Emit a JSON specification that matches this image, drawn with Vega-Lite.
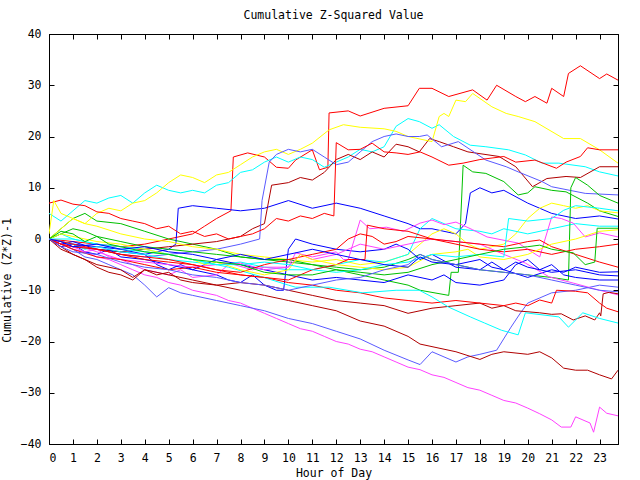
{
"$schema": "https://vega.github.io/schema/vega-lite/v6.json",
"width": 569, "height": 410,
"autosize": "none",
"padding": {"left": 49, "top": 34, "right": 22, "bottom": 36},
"background": "white",
"title": {"text": "Cumulative Z-Squared Value", "font": "DejaVu Sans Mono", "fontSize": 11.5, "fontWeight": "normal", "color": "black", "offset": 7, "anchor": "middle"},
"config": {"view": {"stroke": "black", "strokeWidth": 1}},
"data": {"values": [
{"s":1,"h":0,"v":0},{"s":1,"h":1,"v":-0.5},{"s":1,"h":2,"v":-1},{"s":1,"h":3,"v":-1.5},{"s":1,"h":4,"v":-1},{"s":1,"h":5,"v":0},{"s":1,"h":6,"v":1},{"s":1,"h":6.5,"v":2.5},{"s":1,"h":7,"v":4},{"s":1,"h":7.6,"v":5.5},{"s":1,"h":7.7,"v":16},{"s":1,"h":8.3,"v":16.8},{"s":1,"h":9,"v":16},{"s":1,"h":9.5,"v":14},{"s":1,"h":10,"v":13.8},{"s":1,"h":10.3,"v":15.4},{"s":1,"h":11,"v":17.4},{"s":1,"h":11.3,"v":13.5},{"s":1,"h":11.65,"v":14},{"s":1,"h":11.7,"v":24.6},{"s":1,"h":12.5,"v":25},{"s":1,"h":13,"v":24},{"s":1,"h":14,"v":25.5},{"s":1,"h":15,"v":26},{"s":1,"h":15.47,"v":29.4},{"s":1,"h":16,"v":29.4},{"s":1,"h":16.7,"v":27.8},{"s":1,"h":17.7,"v":29.1},{"s":1,"h":18.3,"v":27.1},{"s":1,"h":18.7,"v":30},{"s":1,"h":19.5,"v":27.8},{"s":1,"h":19.9,"v":26.8},{"s":1,"h":20.3,"v":27.8},{"s":1,"h":20.8,"v":26.5},{"s":1,"h":21,"v":29.4},{"s":1,"h":21.5,"v":27.8},{"s":1,"h":21.7,"v":32.3},{"s":1,"h":22.2,"v":33.8},{"s":1,"h":23,"v":31.3},{"s":1,"h":23.3,"v":32.2},{"s":1,"h":23.77,"v":31},
{"s":2,"h":0,"v":0},{"s":2,"h":0.5,"v":2},{"s":2,"h":1,"v":4},{"s":2,"h":1.5,"v":5},{"s":2,"h":2,"v":3.5},{"s":2,"h":3,"v":3},{"s":2,"h":4,"v":1.5},{"s":2,"h":5,"v":0},{"s":2,"h":6,"v":-1},{"s":2,"h":7,"v":-2},{"s":2,"h":8,"v":-3.5},{"s":2,"h":9,"v":-4},{"s":2,"h":10,"v":-4.5},{"s":2,"h":11,"v":-5},{"s":2,"h":12,"v":-6},{"s":2,"h":13,"v":-7},{"s":2,"h":14,"v":-8},{"s":2,"h":15,"v":-9},{"s":2,"h":15.5,"v":-10},{"s":2,"h":16.7,"v":-11},{"s":2,"h":16.8,"v":-6.5},{"s":2,"h":17.1,"v":-6.5},{"s":2,"h":17.3,"v":14.4},{"s":2,"h":17.7,"v":13.1},{"s":2,"h":18.25,"v":12.8},{"s":2,"h":19,"v":11.2},{"s":2,"h":19.6,"v":8.6},{"s":2,"h":20,"v":9},{"s":2,"h":20.3,"v":10.2},{"s":2,"h":21,"v":9.5},{"s":2,"h":21.6,"v":9.2},{"s":2,"h":22.5,"v":7},{"s":2,"h":23,"v":5.5},{"s":2,"h":23.77,"v":4.4},
{"s":3,"h":0,"v":0},{"s":3,"h":0.5,"v":-1},{"s":3,"h":1,"v":-0.5},{"s":3,"h":2,"v":-2},{"s":3,"h":3,"v":-2.5},{"s":3,"h":4,"v":-3},{"s":3,"h":5,"v":-2},{"s":3,"h":5.3,"v":-1},{"s":3,"h":5.4,"v":6},{"s":3,"h":6,"v":6.5},{"s":3,"h":7,"v":6},{"s":3,"h":8,"v":5.5},{"s":3,"h":9,"v":6},{"s":3,"h":10,"v":7.5},{"s":3,"h":11,"v":6},{"s":3,"h":12,"v":7},{"s":3,"h":13,"v":6},{"s":3,"h":14,"v":4.5},{"s":3,"h":15,"v":3},{"s":3,"h":15.5,"v":2},{"s":3,"h":16,"v":2},{"s":3,"h":17,"v":1},{"s":3,"h":17.4,"v":3},{"s":3,"h":17.6,"v":9},{"s":3,"h":18,"v":10},{"s":3,"h":18.5,"v":9},{"s":3,"h":19,"v":9.5},{"s":3,"h":20,"v":7},{"s":3,"h":20.5,"v":6},{"s":3,"h":21,"v":5},{"s":3,"h":22,"v":4},{"s":3,"h":23,"v":4.5},{"s":3,"h":23.77,"v":3.9},
{"s":4,"h":0,"v":0},{"s":4,"h":0.5,"v":-1},{"s":4,"h":1,"v":-2},{"s":4,"h":1.5,"v":-2.5},{"s":4,"h":2,"v":-3.5},{"s":4,"h":2.5,"v":-4},{"s":4,"h":3,"v":-5},{"s":4,"h":3.5,"v":-6},{"s":4,"h":4,"v":-7},{"s":4,"h":4.5,"v":-7.5},{"s":4,"h":5,"v":-8.5},{"s":4,"h":5.5,"v":-9},{"s":4,"h":6,"v":-10},{"s":4,"h":6.5,"v":-10.5},{"s":4,"h":7,"v":-11},{"s":4,"h":7.5,"v":-12},{"s":4,"h":8,"v":-12.5},{"s":4,"h":8.5,"v":-13.5},{"s":4,"h":9,"v":-14.5},{"s":4,"h":9.5,"v":-15.5},{"s":4,"h":10,"v":-16.5},{"s":4,"h":10.5,"v":-17.5},{"s":4,"h":11,"v":-18},{"s":4,"h":11.5,"v":-19},{"s":4,"h":12,"v":-20},{"s":4,"h":12.5,"v":-20.5},{"s":4,"h":13,"v":-21.5},{"s":4,"h":13.5,"v":-22},{"s":4,"h":14,"v":-23},{"s":4,"h":14.5,"v":-24},{"s":4,"h":15,"v":-25},{"s":4,"h":15.5,"v":-25.5},{"s":4,"h":16,"v":-26.5},{"s":4,"h":16.5,"v":-27},{"s":4,"h":17,"v":-28},{"s":4,"h":17.5,"v":-29},{"s":4,"h":18,"v":-29.5},{"s":4,"h":18.5,"v":-30.5},{"s":4,"h":19,"v":-31.5},{"s":4,"h":19.5,"v":-32},{"s":4,"h":20,"v":-33},{"s":4,"h":20.5,"v":-34.1},{"s":4,"h":21,"v":-35.3},{"s":4,"h":21.4,"v":-36.7},{"s":4,"h":21.8,"v":-36.7},{"s":4,"h":22,"v":-34.7},{"s":4,"h":22.6,"v":-35.9},{"s":4,"h":22.75,"v":-37.7},{"s":4,"h":23,"v":-32.8},{"s":4,"h":23.3,"v":-34},{"s":4,"h":23.77,"v":-34.5},
{"s":5,"h":0,"v":5},{"s":5,"h":0.5,"v":3.5},{"s":5,"h":1,"v":5.5},{"s":5,"h":1.5,"v":7.5},{"s":5,"h":2,"v":7},{"s":5,"h":2.5,"v":8},{"s":5,"h":3,"v":8.5},{"s":5,"h":3.5,"v":7},{"s":5,"h":4,"v":9},{"s":5,"h":4.5,"v":10.5},{"s":5,"h":5,"v":9.5},{"s":5,"h":5.5,"v":9},{"s":5,"h":6,"v":9.5},{"s":5,"h":6.5,"v":9},{"s":5,"h":7,"v":10.5},{"s":5,"h":7.5,"v":11},{"s":5,"h":8,"v":13},{"s":5,"h":8.5,"v":13.5},{"s":5,"h":9,"v":15},{"s":5,"h":9.5,"v":16},{"s":5,"h":10,"v":15},{"s":5,"h":10.5,"v":16},{"s":5,"h":11,"v":15.5},{"s":5,"h":11.5,"v":14},{"s":5,"h":12,"v":15},{"s":5,"h":12.5,"v":16},{"s":5,"h":13,"v":17.5},{"s":5,"h":13.5,"v":17},{"s":5,"h":14,"v":18},{"s":5,"h":14.5,"v":22},{"s":5,"h":15,"v":23.5},{"s":5,"h":15.47,"v":22.9},{"s":5,"h":16,"v":21.6},{"s":5,"h":16.3,"v":22.3},{"s":5,"h":16.9,"v":20},{"s":5,"h":17.6,"v":18.3},{"s":5,"h":18.25,"v":18},{"s":5,"h":19.2,"v":17.4},{"s":5,"h":19.9,"v":16.4},{"s":5,"h":20.6,"v":14.8},{"s":5,"h":21.3,"v":14.8},{"s":5,"h":22.4,"v":14.1},{"s":5,"h":23,"v":13.1},{"s":5,"h":23.77,"v":12.3},
{"s":6,"h":0,"v":0},{"s":6,"h":0.5,"v":-1},{"s":6,"h":1,"v":-1.5},{"s":6,"h":2,"v":-2},{"s":6,"h":3,"v":-2.5},{"s":6,"h":4,"v":-2},{"s":6,"h":5,"v":-1.5},{"s":6,"h":6,"v":-1},{"s":6,"h":7,"v":-0.5},{"s":6,"h":8,"v":0.5},{"s":6,"h":8.5,"v":2},{"s":6,"h":9,"v":3},{"s":6,"h":9.3,"v":10.5},{"s":6,"h":10,"v":11},{"s":6,"h":10.5,"v":12},{"s":6,"h":11,"v":11.5},{"s":6,"h":11.5,"v":13},{"s":6,"h":12,"v":15.5},{"s":6,"h":12.5,"v":16.5},{"s":6,"h":13,"v":15.5},{"s":6,"h":13.5,"v":17},{"s":6,"h":14,"v":16},{"s":6,"h":14.5,"v":18.5},{"s":6,"h":15,"v":18},{"s":6,"h":15.47,"v":17},{"s":6,"h":15.9,"v":19.6},{"s":6,"h":16.3,"v":19},{"s":6,"h":16.9,"v":18},{"s":6,"h":17.5,"v":17},{"s":6,"h":18.8,"v":16.1},{"s":6,"h":19.5,"v":14.1},{"s":6,"h":20.2,"v":10.2},{"s":6,"h":20.8,"v":11.8},{"s":6,"h":21.6,"v":12.2},{"s":6,"h":22.2,"v":12},{"s":6,"h":23,"v":14.1},{"s":6,"h":23.77,"v":14.1},
{"s":7,"h":0,"v":0},{"s":7,"h":0.5,"v":2},{"s":7,"h":1,"v":4},{"s":7,"h":1.5,"v":3},{"s":7,"h":2,"v":5},{"s":7,"h":2.5,"v":6},{"s":7,"h":3,"v":5.5},{"s":7,"h":3.5,"v":7},{"s":7,"h":4,"v":7.5},{"s":7,"h":4.5,"v":9},{"s":7,"h":5,"v":11},{"s":7,"h":5.5,"v":12.5},{"s":7,"h":6,"v":12},{"s":7,"h":6.5,"v":11},{"s":7,"h":7,"v":12.5},{"s":7,"h":7.5,"v":13},{"s":7,"h":8,"v":14.5},{"s":7,"h":8.5,"v":16},{"s":7,"h":9,"v":17},{"s":7,"h":9.5,"v":17.5},{"s":7,"h":10,"v":16.5},{"s":7,"h":10.5,"v":17.5},{"s":7,"h":11,"v":18.7},{"s":7,"h":11.7,"v":21.3},{"s":7,"h":12.3,"v":22.3},{"s":7,"h":13,"v":21.8},{"s":7,"h":14,"v":21.5},{"s":7,"h":14.5,"v":21},{"s":7,"h":15,"v":20},{"s":7,"h":15.5,"v":19.5},{"s":7,"h":16,"v":19},{"s":7,"h":16.3,"v":23.9},{"s":7,"h":16.5,"v":24.5},{"s":7,"h":16.7,"v":23.9},{"s":7,"h":17,"v":27.1},{"s":7,"h":17.4,"v":26.8},{"s":7,"h":17.7,"v":28.4},{"s":7,"h":18.5,"v":25.8},{"s":7,"h":19.1,"v":24.5},{"s":7,"h":19.6,"v":23.9},{"s":7,"h":20.3,"v":22.9},{"s":7,"h":21.5,"v":19.6},{"s":7,"h":22.2,"v":19.6},{"s":7,"h":23,"v":17.4},{"s":7,"h":23.77,"v":14.8},
{"s":8,"h":0,"v":0},{"s":8,"h":0.5,"v":-1},{"s":8,"h":1,"v":-1.5},{"s":8,"h":2,"v":-2},{"s":8,"h":3,"v":-3},{"s":8,"h":4,"v":-3.5},{"s":8,"h":5,"v":-3},{"s":8,"h":6,"v":-2.5},{"s":8,"h":7,"v":-2},{"s":8,"h":8,"v":-1},{"s":8,"h":8.8,"v":0},{"s":8,"h":8.9,"v":7.5},{"s":8,"h":9.2,"v":15},{"s":8,"h":9.5,"v":16.5},{"s":8,"h":10,"v":17.5},{"s":8,"h":10.5,"v":17},{"s":8,"h":11,"v":17.5},{"s":8,"h":11.5,"v":16},{"s":8,"h":12,"v":14.5},{"s":8,"h":12.5,"v":15},{"s":8,"h":13,"v":17},{"s":8,"h":13.5,"v":19},{"s":8,"h":14,"v":20},{"s":8,"h":14.5,"v":20.5},{"s":8,"h":15,"v":20},{"s":8,"h":15.47,"v":20},{"s":8,"h":15.8,"v":20.3},{"s":8,"h":16.4,"v":18},{"s":8,"h":17.1,"v":19},{"s":8,"h":18.25,"v":15.4},{"s":8,"h":19.1,"v":14.1},{"s":8,"h":19.6,"v":13.1},{"s":8,"h":20.6,"v":11.2},{"s":8,"h":21,"v":10.2},{"s":8,"h":22.4,"v":8.9},{"s":8,"h":23.77,"v":8.6},
{"s":9,"h":0,"v":7},{"s":9,"h":0.5,"v":7.6},{"s":9,"h":1,"v":6.8},{"s":9,"h":1.5,"v":6.5},{"s":9,"h":2,"v":5.3},{"s":9,"h":2.5,"v":5},{"s":9,"h":3,"v":4},{"s":9,"h":3.5,"v":3.5},{"s":9,"h":4,"v":3},{"s":9,"h":4.5,"v":2},{"s":9,"h":5,"v":2.5},{"s":9,"h":5.5,"v":1},{"s":9,"h":6,"v":1.5},{"s":9,"h":6.5,"v":0.5},{"s":9,"h":7,"v":1},{"s":9,"h":7.5,"v":0},{"s":9,"h":8,"v":0.5},{"s":9,"h":8.5,"v":1},{"s":9,"h":9,"v":2},{"s":9,"h":9.5,"v":4},{"s":9,"h":10,"v":3.5},{"s":9,"h":10.5,"v":4.5},{"s":9,"h":11,"v":4},{"s":9,"h":11.5,"v":5},{"s":9,"h":11.9,"v":4.5},{"s":9,"h":12,"v":18.8},{"s":9,"h":12.5,"v":17.4},{"s":9,"h":13,"v":17.5},{"s":9,"h":13.5,"v":18.7},{"s":9,"h":14,"v":17},{"s":9,"h":14.5,"v":16.8},{"s":9,"h":15,"v":16.5},{"s":9,"h":15.5,"v":17},{"s":9,"h":16,"v":16},{"s":9,"h":16.7,"v":14.4},{"s":9,"h":17.3,"v":14.8},{"s":9,"h":18,"v":15.5},{"s":9,"h":19,"v":16.1},{"s":9,"h":19.5,"v":15},{"s":9,"h":20.3,"v":15.4},{"s":9,"h":21.2,"v":13.8},{"s":9,"h":21.6,"v":15},{"s":9,"h":22.2,"v":16.1},{"s":9,"h":22.5,"v":17.8},{"s":9,"h":23,"v":17.4},{"s":9,"h":23.77,"v":17.4},
{"s":10,"h":0,"v":1},{"s":10,"h":0.2,"v":7.5},{"s":10,"h":0.5,"v":5},{"s":10,"h":1,"v":4},{"s":10,"h":1.5,"v":3},{"s":10,"h":2,"v":2.5},{"s":10,"h":3,"v":1},{"s":10,"h":4,"v":0},{"s":10,"h":5,"v":-0.5},{"s":10,"h":6,"v":-1.5},{"s":10,"h":7,"v":-2},{"s":10,"h":8,"v":-3},{"s":10,"h":9,"v":-3.5},{"s":10,"h":10,"v":-4},{"s":10,"h":11,"v":-4.5},{"s":10,"h":12,"v":-4},{"s":10,"h":13,"v":-5},{"s":10,"h":14,"v":-4.5},{"s":10,"h":15,"v":-3},{"s":10,"h":15.5,"v":-1},{"s":10,"h":16,"v":1},{"s":10,"h":16.5,"v":2},{"s":10,"h":17,"v":1},{"s":10,"h":17.5,"v":-1},{"s":10,"h":18,"v":-2},{"s":10,"h":18.5,"v":-1.5},{"s":10,"h":19,"v":-1},{"s":10,"h":19.5,"v":1},{"s":10,"h":20,"v":4},{"s":10,"h":20.5,"v":6},{"s":10,"h":21,"v":7},{"s":10,"h":21.5,"v":6.5},{"s":10,"h":22,"v":6},{"s":10,"h":22.5,"v":6.5},{"s":10,"h":23,"v":5.5},{"s":10,"h":23.77,"v":5.1},
{"s":11,"h":0,"v":0},{"s":11,"h":0.5,"v":1},{"s":11,"h":1,"v":0},{"s":11,"h":2,"v":-1},{"s":11,"h":3,"v":-1.5},{"s":11,"h":4,"v":-2},{"s":11,"h":5,"v":-3},{"s":11,"h":6,"v":-4},{"s":11,"h":7,"v":-5},{"s":11,"h":8,"v":-4.5},{"s":11,"h":9,"v":-5.5},{"s":11,"h":10,"v":-6},{"s":11,"h":11,"v":-6},{"s":11,"h":12,"v":-5},{"s":11,"h":13,"v":-4},{"s":11,"h":14,"v":-4.5},{"s":11,"h":15,"v":-3},{"s":11,"h":15.5,"v":2},{"s":11,"h":16,"v":4},{"s":11,"h":16.5,"v":3},{"s":11,"h":17,"v":2},{"s":11,"h":18,"v":1.5},{"s":11,"h":18.5,"v":1},{"s":11,"h":19,"v":2},{"s":11,"h":20,"v":1},{"s":11,"h":21,"v":2},{"s":11,"h":22,"v":3},{"s":11,"h":23,"v":2.5},{"s":11,"h":23.77,"v":2.5},
{"s":12,"h":0,"v":0},{"s":12,"h":0.5,"v":1},{"s":12,"h":1,"v":2},{"s":12,"h":1.5,"v":1.5},{"s":12,"h":2,"v":0.5},{"s":12,"h":3,"v":-0.5},{"s":12,"h":4,"v":-1.5},{"s":12,"h":5,"v":-2},{"s":12,"h":6,"v":-2.5},{"s":12,"h":7,"v":-3},{"s":12,"h":8,"v":-3.5},{"s":12,"h":9,"v":-4},{"s":12,"h":10,"v":-4},{"s":12,"h":11,"v":-5},{"s":12,"h":12,"v":-5.5},{"s":12,"h":13,"v":-6},{"s":12,"h":14,"v":-5.5},{"s":12,"h":15,"v":-4},{"s":12,"h":15.5,"v":-3},{"s":12,"h":16,"v":-4},{"s":12,"h":17,"v":-5},{"s":12,"h":18,"v":-6},{"s":12,"h":19,"v":-6.5},{"s":12,"h":20,"v":-7},{"s":12,"h":21,"v":-7.5},{"s":12,"h":21.7,"v":-8},{"s":12,"h":21.8,"v":10},{"s":12,"h":22,"v":12},{"s":12,"h":22.5,"v":10.5},{"s":12,"h":23,"v":8.5},{"s":12,"h":23.77,"v":7},
{"s":13,"h":0,"v":0},{"s":13,"h":0.5,"v":-1.5},{"s":13,"h":1,"v":-1},{"s":13,"h":1.5,"v":-2.5},{"s":13,"h":2,"v":-3},{"s":13,"h":2.5,"v":-2},{"s":13,"h":3,"v":-3.5},{"s":13,"h":4,"v":-4},{"s":13,"h":5,"v":-5},{"s":13,"h":6,"v":-6},{"s":13,"h":7,"v":-7},{"s":13,"h":7.5,"v":-8},{"s":13,"h":8,"v":-8.5},{"s":13,"h":8.5,"v":-7},{"s":13,"h":9,"v":-9},{"s":13,"h":9.5,"v":-10},{"s":13,"h":9.8,"v":-10},{"s":13,"h":10,"v":-2},{"s":13,"h":10.3,"v":0},{"s":13,"h":11,"v":-1},{"s":13,"h":12,"v":-2},{"s":13,"h":13,"v":-2.5},{"s":13,"h":14,"v":-2},{"s":13,"h":14.5,"v":-1},{"s":13,"h":15,"v":-2},{"s":13,"h":15.5,"v":-4},{"s":13,"h":16,"v":-3},{"s":13,"h":17,"v":-5.5},{"s":13,"h":18,"v":-6},{"s":13,"h":18.5,"v":-4.5},{"s":13,"h":19,"v":-6},{"s":13,"h":20,"v":-7.5},{"s":13,"h":21,"v":-6},{"s":13,"h":21.5,"v":-6.5},{"s":13,"h":22,"v":-5.5},{"s":13,"h":23,"v":-6.5},{"s":13,"h":23.77,"v":-6.4},
{"s":14,"h":0,"v":0},{"s":14,"h":1,"v":-1},{"s":14,"h":2,"v":-1.5},{"s":14,"h":3,"v":-2},{"s":14,"h":4,"v":-3},{"s":14,"h":4.5,"v":-5},{"s":14,"h":5,"v":-6},{"s":14,"h":5.5,"v":-5},{"s":14,"h":6,"v":-6},{"s":14,"h":7,"v":-4},{"s":14,"h":8,"v":-5},{"s":14,"h":9,"v":-6},{"s":14,"h":10,"v":-7},{"s":14,"h":11,"v":-8},{"s":14,"h":12,"v":-7.5},{"s":14,"h":13,"v":-8},{"s":14,"h":14,"v":-8.5},{"s":14,"h":15,"v":-7},{"s":14,"h":16,"v":-8},{"s":14,"h":16.5,"v":-7},{"s":14,"h":17,"v":-8.5},{"s":14,"h":18,"v":-9},{"s":14,"h":19,"v":-8},{"s":14,"h":19.5,"v":-5},{"s":14,"h":20,"v":-4},{"s":14,"h":20.5,"v":-6},{"s":14,"h":21,"v":-5},{"s":14,"h":21.5,"v":-7},{"s":14,"h":22,"v":-7.5},{"s":14,"h":23,"v":-8},{"s":14,"h":23.77,"v":-8},
{"s":15,"h":0,"v":0},{"s":15,"h":0.5,"v":-1},{"s":15,"h":1,"v":-2},{"s":15,"h":1.5,"v":-3.5},{"s":15,"h":2,"v":-4},{"s":15,"h":2.5,"v":-5},{"s":15,"h":3,"v":-6},{"s":15,"h":3.5,"v":-7},{"s":15,"h":4,"v":-9},{"s":15,"h":4.5,"v":-11.3},{"s":15,"h":5,"v":-9.5},{"s":15,"h":5.5,"v":-10.5},{"s":15,"h":6,"v":-11},{"s":15,"h":7,"v":-12},{"s":15,"h":8,"v":-13},{"s":15,"h":9,"v":-14},{"s":15,"h":10,"v":-15.5},{"s":15,"h":11,"v":-16.5},{"s":15,"h":12,"v":-18},{"s":15,"h":13,"v":-19.5},{"s":15,"h":14,"v":-21.7},{"s":15,"h":15,"v":-23.6},{"s":15,"h":15.5,"v":-24.5},{"s":15,"h":16,"v":-22},{"s":15,"h":16.5,"v":-23},{"s":15,"h":17,"v":-24},{"s":15,"h":17.5,"v":-23},{"s":15,"h":18,"v":-22.5},{"s":15,"h":18.7,"v":-21.7},{"s":15,"h":19.3,"v":-17.2},{"s":15,"h":19.7,"v":-14.4},{"s":15,"h":20,"v":-12.5},{"s":15,"h":20.5,"v":-11.5},{"s":15,"h":21,"v":-10.5},{"s":15,"h":22,"v":-10},{"s":15,"h":23,"v":-9},{"s":15,"h":23.77,"v":-9.4},
{"s":16,"h":0,"v":0},{"s":16,"h":0.5,"v":-1},{"s":16,"h":1,"v":-1.5},{"s":16,"h":1.5,"v":-2.5},{"s":16,"h":2,"v":-2},{"s":16,"h":2.5,"v":-3.5},{"s":16,"h":3,"v":-4},{"s":16,"h":4,"v":-4.5},{"s":16,"h":5,"v":-5},{"s":16,"h":6,"v":-5.5},{"s":16,"h":7,"v":-5},{"s":16,"h":7.5,"v":-4.7},{"s":16,"h":8.5,"v":-6},{"s":16,"h":9,"v":-5.5},{"s":16,"h":10,"v":-5.5},{"s":16,"h":10.3,"v":-2.7},{"s":16,"h":11,"v":-3.5},{"s":16,"h":12,"v":-2.5},{"s":16,"h":12.3,"v":-4},{"s":16,"h":12.5,"v":-4},{"s":16,"h":13,"v":3.7},{"s":16,"h":13.4,"v":2},{"s":16,"h":14.1,"v":2.3},{"s":16,"h":14.8,"v":1.5},{"s":16,"h":15.5,"v":3.1},{"s":16,"h":16,"v":3.7},{"s":16,"h":16.5,"v":2.8},{"s":16,"h":17,"v":3.3},{"s":16,"h":17.7,"v":1.8},{"s":16,"h":18.3,"v":0.4},{"s":16,"h":19.6,"v":-0.8},{"s":16,"h":20.5,"v":-3.5},{"s":16,"h":21,"v":4.3},{"s":16,"h":21.4,"v":4},{"s":16,"h":21.9,"v":3.1},{"s":16,"h":22.4,"v":0.4},{"s":16,"h":23,"v":1.2},{"s":16,"h":23.77,"v":0.4},
{"s":17,"h":0,"v":0},{"s":17,"h":0.5,"v":-0.5},{"s":17,"h":1,"v":-1},{"s":17,"h":2,"v":-2.5},{"s":17,"h":3,"v":-4},{"s":17,"h":3.5,"v":-5},{"s":17,"h":4,"v":-6},{"s":17,"h":5,"v":-7},{"s":17,"h":5.5,"v":-6},{"s":17,"h":6,"v":-7.5},{"s":17,"h":7,"v":-7},{"s":17,"h":7.5,"v":-5},{"s":17,"h":8,"v":-4.7},{"s":17,"h":9,"v":-6},{"s":17,"h":10,"v":-5.5},{"s":17,"h":10.5,"v":-3},{"s":17,"h":11,"v":-4},{"s":17,"h":12,"v":-3},{"s":17,"h":13,"v":-1},{"s":17,"h":14,"v":-2},{"s":17,"h":15,"v":-1},{"s":17,"h":16,"v":0},{"s":17,"h":17,"v":-0.5},{"s":17,"h":18,"v":-1},{"s":17,"h":18.3,"v":-1.6},{"s":17,"h":19,"v":-3},{"s":17,"h":19.9,"v":-4.7},{"s":17,"h":20.9,"v":-7.4},{"s":17,"h":21.9,"v":-8.6},{"s":17,"h":23,"v":-10},{"s":17,"h":23.77,"v":-10.9},
{"s":18,"h":0,"v":0},{"s":18,"h":0.5,"v":-2},{"s":18,"h":1,"v":-3},{"s":18,"h":1.5,"v":-4},{"s":18,"h":2,"v":-5.5},{"s":18,"h":2.5,"v":-6.5},{"s":18,"h":3,"v":-7},{"s":18,"h":3.5,"v":-8},{"s":18,"h":4,"v":-6},{"s":18,"h":4.5,"v":-7},{"s":18,"h":5,"v":-6.5},{"s":18,"h":5.5,"v":-8},{"s":18,"h":6,"v":-8.5},{"s":18,"h":7,"v":-9},{"s":18,"h":8,"v":-8.5},{"s":18,"h":9,"v":-9},{"s":18,"h":10,"v":-10},{"s":18,"h":11,"v":-11},{"s":18,"h":12,"v":-12},{"s":18,"h":13,"v":-12.5},{"s":18,"h":14,"v":-13},{"s":18,"h":15,"v":-14.5},{"s":18,"h":16,"v":-13.5},{"s":18,"h":17,"v":-13},{"s":18,"h":18,"v":-12.5},{"s":18,"h":18.5,"v":-13.5},{"s":18,"h":19,"v":-13},{"s":18,"h":19.5,"v":-14},{"s":18,"h":20.5,"v":-14.4},{"s":18,"h":21,"v":-14.7},{"s":18,"h":21.4,"v":-14.6},{"s":18,"h":21.9,"v":-15.8},{"s":18,"h":22.4,"v":-15},{"s":18,"h":22.8,"v":-15.8},{"s":18,"h":23,"v":-14.4},{"s":18,"h":23.05,"v":-15},{"s":18,"h":23.15,"v":-10.7},{"s":18,"h":23.4,"v":-10.4},{"s":18,"h":23.77,"v":-10.7},
{"s":19,"h":0,"v":0},{"s":19,"h":0.5,"v":-1},{"s":19,"h":1,"v":-2},{"s":19,"h":2,"v":-3.5},{"s":19,"h":3,"v":-4},{"s":19,"h":4,"v":-5},{"s":19,"h":5,"v":-6},{"s":19,"h":6,"v":-5.5},{"s":19,"h":7,"v":-6.5},{"s":19,"h":8,"v":-7},{"s":19,"h":9,"v":-7.5},{"s":19,"h":10,"v":-8.5},{"s":19,"h":11,"v":-9},{"s":19,"h":12,"v":-10},{"s":19,"h":13,"v":-10.5},{"s":19,"h":14,"v":-11.5},{"s":19,"h":15,"v":-12},{"s":19,"h":16,"v":-12.5},{"s":19,"h":17,"v":-12},{"s":19,"h":18,"v":-12.5},{"s":19,"h":19,"v":-13},{"s":19,"h":19.5,"v":-12.5},{"s":19,"h":20,"v":-13},{"s":19,"h":20.5,"v":-11.9},{"s":19,"h":21,"v":-12.5},{"s":19,"h":21.2,"v":-10},{"s":19,"h":22,"v":-10.2},{"s":19,"h":22.5,"v":-10.5},{"s":19,"h":23,"v":-12.5},{"s":19,"h":23.3,"v":-13.5},{"s":19,"h":23.77,"v":-14.2},
{"s":20,"h":0,"v":0},{"s":20,"h":0.5,"v":-0.5},{"s":20,"h":1,"v":-1},{"s":20,"h":1.5,"v":-2},{"s":20,"h":2,"v":-1.5},{"s":20,"h":3,"v":-2.5},{"s":20,"h":4,"v":-3},{"s":20,"h":5,"v":-4},{"s":20,"h":6,"v":-4.5},{"s":20,"h":7,"v":-5},{"s":20,"h":7.5,"v":-5.5},{"s":20,"h":8.9,"v":-7.4},{"s":20,"h":10,"v":-9},{"s":20,"h":10.3,"v":-9.4},{"s":20,"h":11.7,"v":-9.4},{"s":20,"h":13.1,"v":-10.5},{"s":20,"h":14.5,"v":-10},{"s":20,"h":15.47,"v":-10},{"s":20,"h":16,"v":-11.3},{"s":20,"h":16.7,"v":-13.3},{"s":20,"h":17.6,"v":-15.2},{"s":20,"h":18.2,"v":-16.4},{"s":20,"h":18.9,"v":-17.8},{"s":20,"h":19.6,"v":-18.7},{"s":20,"h":19.9,"v":-14.4},{"s":20,"h":21.3,"v":-15.2},{"s":20,"h":21.7,"v":-17.2},{"s":20,"h":22.3,"v":-14.4},{"s":20,"h":23,"v":-15.5},{"s":20,"h":23.77,"v":-16.4},
{"s":21,"h":0,"v":0},{"s":21,"h":1,"v":-3},{"s":21,"h":2,"v":-5},{"s":21,"h":3,"v":-6},{"s":21,"h":3.5,"v":-7.5},{"s":21,"h":4,"v":-6},{"s":21,"h":5,"v":-7},{"s":21,"h":6,"v":-8},{"s":21,"h":7,"v":-9},{"s":21,"h":8,"v":-10},{"s":21,"h":9,"v":-11},{"s":21,"h":10,"v":-12},{"s":21,"h":11,"v":-13},{"s":21,"h":12,"v":-14},{"s":21,"h":13,"v":-16},{"s":21,"h":14,"v":-17},{"s":21,"h":15,"v":-19},{"s":21,"h":15.5,"v":-20.5},{"s":21,"h":16,"v":-21},{"s":21,"h":17,"v":-22},{"s":21,"h":18,"v":-23.5},{"s":21,"h":18.5,"v":-22.5},{"s":21,"h":19,"v":-22},{"s":21,"h":20,"v":-22.5},{"s":21,"h":20.5,"v":-22},{"s":21,"h":21,"v":-23.2},{"s":21,"h":21.5,"v":-25.2},{"s":21,"h":22,"v":-25.6},{"s":21,"h":22.5,"v":-25.6},{"s":21,"h":23,"v":-26.5},{"s":21,"h":23.5,"v":-27.3},{"s":21,"h":23.77,"v":-25.6},
{"s":22,"h":0,"v":0},{"s":22,"h":0.5,"v":-1},{"s":22,"h":1,"v":-1.5},{"s":22,"h":2,"v":-2},{"s":22,"h":3,"v":-3},{"s":22,"h":4,"v":-4},{"s":22,"h":5,"v":-4.5},{"s":22,"h":6,"v":-5},{"s":22,"h":7,"v":-6},{"s":22,"h":8,"v":-6.5},{"s":22,"h":9,"v":-5},{"s":22,"h":10,"v":-4},{"s":22,"h":11,"v":-3},{"s":22,"h":12,"v":-2},{"s":22,"h":12.5,"v":0},{"s":22,"h":13,"v":1},{"s":22,"h":13.5,"v":0.5},{"s":22,"h":14,"v":-1},{"s":22,"h":14.5,"v":-0.5},{"s":22,"h":15,"v":0.5},{"s":22,"h":16,"v":0},{"s":22,"h":17,"v":-0.5},{"s":22,"h":18,"v":-1},{"s":22,"h":19,"v":-1.5},{"s":22,"h":20,"v":-0.5},{"s":22,"h":20.5,"v":-0.2},{"s":22,"h":21,"v":-1.5},{"s":22,"h":22,"v":-3},{"s":22,"h":23,"v":-4.5},{"s":22,"h":23.77,"v":-5.5},
{"s":23,"h":0,"v":0},{"s":23,"h":1,"v":-1},{"s":23,"h":2,"v":-2},{"s":23,"h":3,"v":-3},{"s":23,"h":4,"v":-3.5},{"s":23,"h":5,"v":-4},{"s":23,"h":6,"v":-5},{"s":23,"h":7,"v":-6},{"s":23,"h":8,"v":-7},{"s":23,"h":9,"v":-7.5},{"s":23,"h":10,"v":-8},{"s":23,"h":11,"v":-6},{"s":23,"h":12,"v":-5},{"s":23,"h":12.5,"v":-4},{"s":23,"h":13.2,"v":-4},{"s":23,"h":13.3,"v":2.7},{"s":23,"h":14,"v":2},{"s":23,"h":15,"v":1.5},{"s":23,"h":16,"v":0},{"s":23,"h":17,"v":-1},{"s":23,"h":18,"v":-2},{"s":23,"h":19,"v":-2.5},{"s":23,"h":20,"v":-2},{"s":23,"h":21,"v":-3},{"s":23,"h":22,"v":-2},{"s":23,"h":23,"v":-1.5},{"s":23,"h":23.77,"v":-1},
{"s":24,"h":0,"v":0},{"s":24,"h":0.5,"v":1},{"s":24,"h":1,"v":0.5},{"s":24,"h":2,"v":-0.5},{"s":24,"h":3,"v":-1},{"s":24,"h":4,"v":-2},{"s":24,"h":5,"v":-3},{"s":24,"h":6,"v":-4},{"s":24,"h":6.5,"v":-5},{"s":24,"h":7,"v":-4.5},{"s":24,"h":8,"v":-6},{"s":24,"h":9,"v":-7},{"s":24,"h":10,"v":-6},{"s":24,"h":10.5,"v":-3},{"s":24,"h":11,"v":-4},{"s":24,"h":12,"v":-5},{"s":24,"h":13,"v":-5.5},{"s":24,"h":14,"v":-6},{"s":24,"h":15,"v":-5.5},{"s":24,"h":16,"v":-3},{"s":24,"h":17,"v":-2.5},{"s":24,"h":17.5,"v":-2},{"s":24,"h":18,"v":-3.5},{"s":24,"h":19,"v":-4},{"s":24,"h":20,"v":-3},{"s":24,"h":21,"v":-1},{"s":24,"h":22,"v":0},{"s":24,"h":23,"v":1.5},{"s":24,"h":23.77,"v":1.8},
{"s":25,"h":0,"v":0},{"s":25,"h":1,"v":0},{"s":25,"h":2,"v":-1},{"s":25,"h":3,"v":-2},{"s":25,"h":4,"v":-2.5},{"s":25,"h":5,"v":-3},{"s":25,"h":6,"v":-4},{"s":25,"h":7,"v":-5},{"s":25,"h":8,"v":-5},{"s":25,"h":9,"v":-4.5},{"s":25,"h":10,"v":-5},{"s":25,"h":11,"v":-6},{"s":25,"h":12,"v":-6.5},{"s":25,"h":13,"v":-6},{"s":25,"h":14,"v":-5},{"s":25,"h":15,"v":-4.5},{"s":25,"h":16,"v":-3},{"s":25,"h":17,"v":-3.5},{"s":25,"h":18,"v":-3},{"s":25,"h":19,"v":-3.5},{"s":25,"h":19.2,"v":4},{"s":25,"h":20,"v":3.5},{"s":25,"h":21,"v":4},{"s":25,"h":21.5,"v":5.6},{"s":25,"h":22,"v":6.5},{"s":25,"h":23,"v":6},{"s":25,"h":23.77,"v":5.5},
{"s":26,"h":0,"v":0},{"s":26,"h":0.5,"v":1.5},{"s":26,"h":1,"v":1},{"s":26,"h":1.5,"v":-0.5},{"s":26,"h":2,"v":0.5},{"s":26,"h":2.5,"v":-1},{"s":26,"h":3,"v":-1.5},{"s":26,"h":4,"v":-2.5},{"s":26,"h":5,"v":-3},{"s":26,"h":6,"v":-4},{"s":26,"h":7,"v":-4.5},{"s":26,"h":8,"v":-5},{"s":26,"h":9,"v":-6.5},{"s":26,"h":10,"v":-7},{"s":26,"h":11,"v":-7},{"s":26,"h":12,"v":-6},{"s":26,"h":13,"v":-6.5},{"s":26,"h":14,"v":-7},{"s":26,"h":15,"v":-6.5},{"s":26,"h":16,"v":-5},{"s":26,"h":17,"v":-4},{"s":26,"h":18,"v":-3},{"s":26,"h":19,"v":-2},{"s":26,"h":20,"v":-1.5},{"s":26,"h":20.5,"v":-1.2},{"s":26,"h":21,"v":-2},{"s":26,"h":21.9,"v":-2.7},{"s":26,"h":22.4,"v":-5},{"s":26,"h":22.8,"v":-4.5},{"s":26,"h":22.9,"v":2.1},{"s":26,"h":23.77,"v":2.1},
{"s":27,"h":0,"v":0},{"s":27,"h":0.5,"v":-0.5},{"s":27,"h":1,"v":-1.5},{"s":27,"h":2,"v":-1},{"s":27,"h":3,"v":-2},{"s":27,"h":4,"v":-1.5},{"s":27,"h":5,"v":-2.5},{"s":27,"h":6,"v":-3},{"s":27,"h":7,"v":-4},{"s":27,"h":8,"v":-3},{"s":27,"h":9,"v":-4},{"s":27,"h":10,"v":-3},{"s":27,"h":11,"v":-2},{"s":27,"h":12,"v":-3},{"s":27,"h":13,"v":-4},{"s":27,"h":14,"v":-5},{"s":27,"h":15,"v":-5.5},{"s":27,"h":15.5,"v":-3.5},{"s":27,"h":16,"v":-4.5},{"s":27,"h":17,"v":-5},{"s":27,"h":18,"v":-4},{"s":27,"h":18.5,"v":-5.5},{"s":27,"h":19,"v":-6},{"s":27,"h":19.5,"v":-4.5},{"s":27,"h":20,"v":-5.5},{"s":27,"h":21,"v":-6.5},{"s":27,"h":22,"v":-6},{"s":27,"h":23,"v":-7},{"s":27,"h":23.77,"v":-7.2},
{"s":28,"h":0,"v":0},{"s":28,"h":0.5,"v":-1.5},{"s":28,"h":1,"v":-2.5},{"s":28,"h":2,"v":-3},{"s":28,"h":3,"v":-4.5},{"s":28,"h":4,"v":-5.5},{"s":28,"h":5,"v":-6},{"s":28,"h":6,"v":-7},{"s":28,"h":7,"v":-7.5},{"s":28,"h":8,"v":-8.5},{"s":28,"h":9,"v":-9},{"s":28,"h":10,"v":-10},{"s":28,"h":11,"v":-9},{"s":28,"h":12,"v":-8},{"s":28,"h":13,"v":-7.5},{"s":28,"h":14,"v":-6},{"s":28,"h":15,"v":-5},{"s":28,"h":15.5,"v":-3},{"s":28,"h":16,"v":-4},{"s":28,"h":17,"v":-5},{"s":28,"h":18,"v":-6},{"s":28,"h":19,"v":-6.5},{"s":28,"h":20,"v":-7},{"s":28,"h":21,"v":-8},{"s":28,"h":22,"v":-9},{"s":28,"h":23,"v":-10},{"s":28,"h":23.77,"v":-10.3}
]},
"layer": [
{"mark": {"type": "line", "strokeWidth": 1, "clip": true},
 "encoding": {
  "x": {"field": "h", "type": "quantitative", "scale": {"domain": [0, 23.77], "nice": false, "zero": false},
        "axis": {"title": "Hour of Day", "values": [0,1,2,3,4,5,6,7,8,9,10,11,12,13,14,15,16,17,18,19,20,21,22,23], "grid": false, "tickSize": -5, "tickColor": "black", "domainColor": "black", "labelPadding": 13, "labelFont": "DejaVu Sans Mono", "labelFontSize": 11.5, "labelColor": "black", "titleFont": "DejaVu Sans Mono", "titleFontSize": 11.5, "titleFontWeight": "normal", "titleColor": "black", "titlePadding": 4}},
  "y": {"field": "v", "type": "quantitative", "scale": {"domain": [-40, 40], "nice": false},
        "axis": {"title": "Cumulative (Z*Z)-1", "values": [-40,-30,-20,-10,0,10,20,30,40], "grid": false, "tickSize": -5, "tickColor": "black", "domainColor": "black", "labelPadding": 13, "labelFont": "DejaVu Sans Mono", "labelFontSize": 11.5, "labelColor": "black", "titleFont": "DejaVu Sans Mono", "titleFontSize": 11.5, "titleFontWeight": "normal", "titleColor": "black", "titleX": -37, "titleY": 246}},
  "color": {"field": "s", "type": "nominal", "legend": null,
            "scale": {"domain": [1,2,3,4,5,6,7,8,9,10,11,12,13,14,15,16,17,18,19,20,21,22,23,24,25,26,27,28],
                      "range": ["#ff0000","#00c000","#0000ff","#ff40ff","#00ffff","#b00000","#ffff00","#5a5aff","#ff0000","#ffff00","#00ffff","#00c000","#0000ff","#0000ff","#5a5aff","#ff40ff","#ff40ff","#b00000","#ff0000","#00ffff","#b00000","#ff0000","#ff0000","#ffff00","#00ffff","#00c000","#0000ff","#5a5aff"]}}
 }},
{"mark": {"type": "point", "opacity": 0},
 "encoding": {
  "x": {"field": "h", "type": "quantitative", "scale": {"domain": [0, 23.77], "nice": false, "zero": false},
        "axis": {"orient": "top", "title": null, "labels": false, "values": [0,1,2,3,4,5,6,7,8,9,10,11,12,13,14,15,16,17,18,19,20,21,22,23], "grid": false, "tickSize": -5, "tickColor": "black", "domainColor": "black"}},
  "y": {"field": "v", "type": "quantitative", "scale": {"domain": [-40, 40], "nice": false},
        "axis": {"orient": "right", "title": null, "labels": false, "values": [-40,-30,-20,-10,0,10,20,30,40], "grid": false, "tickSize": -5, "tickColor": "black", "domainColor": "black"}}
 }}
],
"resolve": {"axis": {"x": "independent", "y": "independent"}}
}
